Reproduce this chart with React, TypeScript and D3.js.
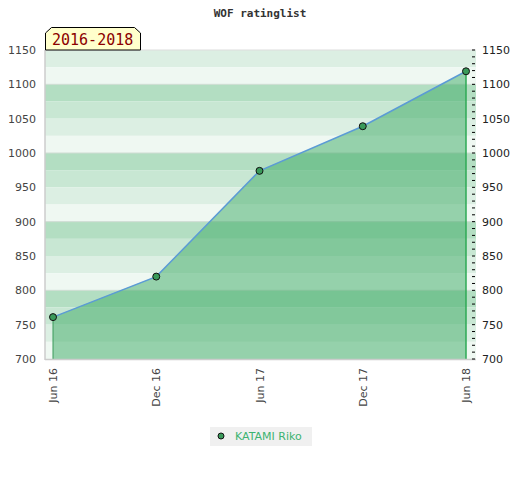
import React from 'react';
import * as d3 from 'd3';

const periods = ['Jun 16', 'Dec 16', 'Jun 17', 'Dec 17', 'Jun 18'];
const ratings = [761, 820, 974, 1039, 1119];
const yTicks = [700, 750, 800, 850, 900, 950, 1000, 1050, 1100, 1150];
const bandColors = ['#dcefe3', '#eff8f2', '#b3dec2', '#c8e7d3'];
const playerName = 'KATAMI Riko';
const rangeLabel = '2016-2018';

const App: React.FC = () => {
    const width = 520;
    const height = 480;
    const left = 45;
    const right = 476;
    const top = 50;
    const bottom = 359;

    const y = d3.scaleLinear().domain([700, 1150]).range([bottom, top]);
    const x = d3.scalePoint<string>().domain(periods).range([53, 466]);

    const bands = d3.range(1150, 700, -25).map((v, i) => ({ v, color: bandColors[i % 4] }));
    const minorTicks = d3.range(700, 1151, 10);

    const pts = periods.map((p, i) => ({ p, v: ratings[i] }));
    const line = d3.line<{ p: string; v: number }>().x(d => x(d.p)!).y(d => y(d.v));
    const area = d3.area<{ p: string; v: number }>().x(d => x(d.p)!).y0(bottom).y1(d => y(d.v));

    const first = pts[0];
    const last = pts[pts.length - 1];

    return (
        <svg width={width} height={height} style={{ display: 'block', margin: -8 }}>
            <text x={260} y={17} textAnchor="middle" fontFamily="DejaVu Sans Mono" fontWeight="bold" fontSize={11} fill="#333">
                WOF ratinglist
            </text>

            {/* background bands */}
            {bands.map(b => (
                <rect key={b.v} x={left} y={y(b.v)} width={right - left} height={y(b.v - 25) - y(b.v)} fill={b.color} />
            ))}
            {yTicks.filter(t => t % 100 === 0 && t > 700).map(t => (
                <line key={t} x1={left} x2={right} y1={y(t)} y2={y(t)} stroke="#cfdcd3" strokeWidth={1} />
            ))}

            {/* area and line */}
            <path d={area(pts) || undefined} fill="rgb(60,170,100)" fillOpacity={0.5} />
            <line x1={x(first.p)} x2={x(first.p)} y1={y(first.v)} y2={bottom} stroke="#3a9a5a" strokeWidth={1} />
            <line x1={x(last.p)} x2={x(last.p)} y1={y(last.v)} y2={bottom} stroke="#2eaa55" strokeWidth={1.5} />
            <path d={line(pts) || undefined} fill="none" stroke="#5b9bd5" strokeWidth={1.5} />
            {pts.map(d => (
                <circle key={d.p} cx={x(d.p)} cy={y(d.v)} r={3.5} fill="#3a9a5a" stroke="#111" strokeWidth={1} />
            ))}

            {/* frame */}
            <line x1={left} x2={left} y1={top} y2={bottom + 1} stroke="#cccccc" strokeWidth={1.5} />
            <line x1={left} x2={right} y1={bottom + 0.5} y2={bottom + 0.5} stroke="#cccccc" strokeWidth={1.5} />
            <line x1={left} x2={right} y1={top} y2={top} stroke="#dddddd" strokeWidth={1} />

            {/* right minor ticks */}
            {minorTicks.map(t => (
                <line key={t} x1={right - 4} x2={right - 1} y1={y(t)} y2={y(t)} stroke="#000" strokeWidth={1} />
            ))}

            {/* y labels */}
            {yTicks.map(t => (
                <g key={t} fontFamily="DejaVu Sans" fontSize={11}>
                    <text x={36} y={y(t) + 4} textAnchor="end" fill="#444">{t}</text>
                    <text x={482} y={y(t) + 4} textAnchor="start" fill="#222">{t}</text>
                </g>
            ))}

            {/* x labels */}
            {periods.map(p => (
                <text
                    key={p}
                    transform={`translate(${x(p)! + 4},368) rotate(-90)`}
                    textAnchor="end"
                    fontFamily="DejaVu Sans"
                    fontSize={11}
                    fill="#444"
                >
                    {p}
                </text>
            ))}

            {/* range tag */}
            <path d="M45.5,50 L45.5,33 L51.5,27.5 L134.5,27.5 L140.5,33 L140.5,50 Z" fill="#ffffcc" stroke="#000" strokeWidth={1} />
            <text x={52} y={45} fontFamily="DejaVu Sans Mono" fontSize={15} fill="#8b0000">{rangeLabel}</text>

            {/* legend */}
            <rect x={210} y={427} width={102} height={19} fill="#f0f0f0" />
            <circle cx={221} cy={436} r={3} fill="#3a9a5a" stroke="#111" strokeWidth={1} />
            <text x={235} y={440} fontFamily="DejaVu Sans" fontSize={11} fill="#3cb371">{playerName}</text>
        </svg>
    );
};

export default App;
